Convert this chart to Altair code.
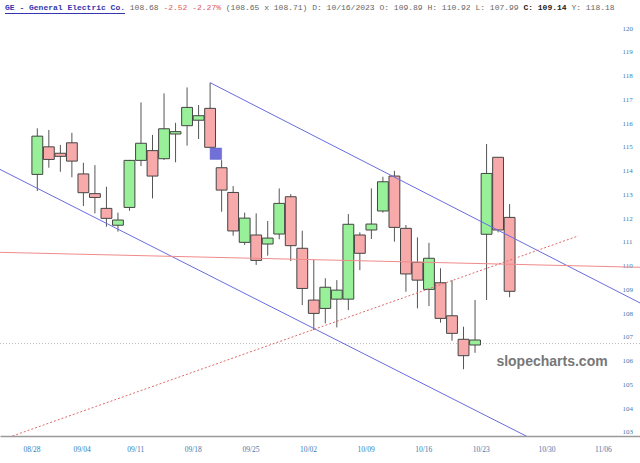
import json
import altair as alt
import pandas as pd

# ---- candle data (trading-day index 0 = 08/28) ----
idx = list(range(42))
opens = [113.84, 115.00, 114.73, 115.17, 113.86, 113.03, 112.41, 111.70, 112.45, 114.43,
         114.84, 114.50, 115.54, 115.89, 116.12, 116.62, 114.12, 113.08, 110.98, 111.29,
         110.91, 111.33, 112.90, 110.73, 108.55, 108.20, 108.59, 108.59, 111.29, 111.50,
         112.30, 113.77, 111.57, 110.14, 109.00, 109.28, 107.89, 106.90, 106.66, 111.32,
         114.56, 112.03]
highs = [115.78, 115.71, 115.08, 115.59, 114.33, 114.23, 113.32, 112.23, 114.45, 116.87,
         115.50, 117.25, 116.01, 117.50, 116.76, 117.70, 114.44, 113.35, 112.23, 112.20,
         111.88, 113.25, 113.01, 111.47, 110.24, 109.47, 109.39, 112.17, 111.40, 113.25,
         113.74, 113.99, 111.71, 111.19, 110.96, 109.89, 109.39, 107.43, 108.55, 115.12,
         114.56, 112.59]
lows = [113.14, 114.12, 113.95, 113.72, 112.51, 112.20, 111.64, 111.43, 112.31, 114.19,
        112.83, 114.45, 114.35, 115.05, 115.33, 114.98, 112.27, 111.26, 110.87, 110.03,
        110.42, 111.11, 110.19, 108.34, 107.29, 107.57, 107.40, 108.13, 109.81, 111.12,
        112.23, 111.01, 108.90, 108.20, 108.30, 107.60, 106.84, 105.64, 106.33, 108.55,
        111.40, 108.67]
closes = [115.45, 114.47, 114.60, 114.40, 113.07, 112.87, 111.99, 111.92, 114.43, 115.15,
          113.77, 115.76, 115.64, 116.66, 116.31, 114.98, 113.18, 111.46, 112.00, 110.22,
          111.16, 112.62, 110.84, 109.04, 107.99, 109.09, 108.97, 111.74, 110.52, 111.75,
          113.53, 111.61, 109.65, 109.39, 110.31, 107.78, 107.15, 106.21, 106.87, 113.88,
          111.50, 108.92]

# blue marker box
marker_i = [15.5]
marker_lo = [114.47]
marker_hi = [114.95]

# trend lines (index, price)
upper_i = [15, 52.32]
upper_p = [117.70, 108.43]
lower_i = [-3.24, 52.32]
lower_p = [114.05, 100.40]
res_i = [-3.24, 52.32]
res_p = [110.56, 109.93]
trend_i = [-2.16, 46.96]
trend_p = [102.83, 111.25]
hline_p = [106.72]

# axis ticks
tick_pos = [-0.5, 3.85, 8.5, 13.5, 18.5, 23.5, 28.5, 33.5, 38.5, 44.2, 49.1]
tick_lab = ["08/28", "09/04", "09/11", "09/18", "09/25", "10/02", "10/09",
            "10/16", "10/23", "10/30", "11/06"]
y_ticks = list(range(103, 121))

X_DOMAIN = [-3.24, 52.32]
Y_DOMAIN = [102.83, 121.18]

df = pd.DataFrame({"i": idx, "o": opens, "h": highs, "l": lows, "c": closes})

xs = alt.Scale(domain=X_DOMAIN, nice=False, zero=False)
ys = alt.Scale(domain=Y_DOMAIN, nice=False, zero=False)

label_expr = f"{json.dumps(tick_lab)}[indexof({json.dumps(tick_pos)}, datum.value)]"
AX_COL = "#3d7ab0"
xaxis = alt.Axis(values=tick_pos, labelExpr=label_expr, grid=False, ticks=False,
                 domainColor="#9a9a9a", domainWidth=1.5, labelColor=AX_COL,
                 labelFont="Liberation Serif", labelFontSize=7.5, labelPadding=9,
                 labelFlush=False, labelOverlap=False, labelBound=False, title=None,
                 labelAngle=0)
yaxis = alt.Axis(orient="right", values=y_ticks, offset=-18, ticks=False, tickSize=0,
                 domain=False, grid=False, labelColor=AX_COL, labelFont="Liberation Serif",
                 labelFontSize=7, labelPadding=0, title=None, labelAlign="left",
                 labelBaseline="middle", labelOverlap=False, labelFlush=False)

hline = alt.Chart(pd.DataFrame({"p": hline_p})).mark_rule(
    color="#bbbbbb", strokeDash=[1, 2], strokeWidth=1
).encode(y=alt.Y("p:Q", scale=ys, axis=yaxis))

wicks = alt.Chart(df).mark_rule(color="#555555", strokeWidth=1).encode(
    x=alt.X("i:Q", scale=xs, axis=xaxis),
    y=alt.Y("l:Q", scale=ys, axis=yaxis),
    y2="h:Q",
)

bodies = alt.Chart(df).transform_calculate(
    x1="datum.i - 0.47",
    x2="datum.i + 0.47",
    top="max(datum.o, datum.c)",
    bot="min(datum.o, datum.c)",
    dir="datum.c >= datum.o ? 'up' : 'down'",
).mark_bar(stroke="#444444", strokeWidth=1).encode(
    x=alt.X("x1:Q", scale=xs, axis=xaxis),
    x2="x2:Q",
    y=alt.Y("bot:Q", scale=ys, axis=yaxis),
    y2="top:Q",
    color=alt.Color("dir:N", scale=alt.Scale(domain=["up", "down"],
                                            range=["#98F098", "#F8AAAA"]), legend=None),
)

mdf = pd.DataFrame({"i": marker_i, "lo": marker_lo, "hi": marker_hi})
marker = alt.Chart(mdf).transform_calculate(
    x1="datum.i - 0.5", x2="datum.i + 0.5"
).mark_bar(color="#7070D8", stroke="#6060c8", strokeWidth=0.5).encode(
    x=alt.X("x1:Q", scale=xs, axis=xaxis), x2="x2:Q",
    y=alt.Y("lo:Q", scale=ys, axis=yaxis), y2="hi:Q",
)


def line_layer(ii, pp, color, dash=None, width=1.0):
    kw = dict(color=color, strokeWidth=width, clip=True)
    if dash:
        kw["strokeDash"] = dash
    return alt.Chart(pd.DataFrame({"i": ii, "p": pp})).mark_line(**kw).encode(
        x=alt.X("i:Q", scale=xs, axis=xaxis),
        y=alt.Y("p:Q", scale=ys, axis=yaxis),
    )


upper = line_layer(upper_i, upper_p, "#6b6be0")
lower = line_layer(lower_i, lower_p, "#6b6be0")
res = line_layer(res_i, res_p, "#f08a8a")
trend = line_layer(trend_i, trend_p, "#e06a6a", dash=[2, 2])

CW = 4.8
X0 = 5


def txt(s, off, color, weight="normal", font="Liberation Mono", size=8, y=8, align="left", x=None):
    return alt.Chart(pd.DataFrame({"t": [s]})).mark_text(
        align=align, baseline="middle", font=font, fontSize=size, color=color,
        fontWeight=weight
    ).encode(x=alt.value(x if x is not None else X0 + off * CW), y=alt.value(y), text="t:N")


header = [
    txt("GE - General Electric Co.", 0, "#3535b0", "bold"),
    txt("108.68", 26, "#666666"),
    txt("-2.52 -2.27%", 33, "#e05a5a"),
    txt("(108.65 x 108.71) D: 10/16/2023 O: 109.89 H: 110.92 L: 107.99", 46, "#666666"),
    txt("C: 109.14", 108, "#222222", "bold"),
    txt("Y: 118.18", 118, "#666666"),
]
underline = alt.Chart(pd.DataFrame({"a": [0]})).mark_rule(color="#3535b0", strokeWidth=1).encode(
    x=alt.value(X0), x2=alt.value(X0 + 25 * CW), y=alt.value(13.5)
)
watermark = txt("slopecharts.com", 0, "#777777", "bold", font="Liberation Sans",
                size=14, y=362, align="center", x=552)

chart = alt.layer(
    hline, wicks, bodies, marker, upper, lower, res, trend, watermark, underline, *header
).properties(
    width=640, height=436,
    autosize=alt.AutoSizeParams(type="none"),
    padding={"left": 0, "top": 0, "right": 0, "bottom": 27},
    background="white",
).configure_view(stroke=None)

chart.save("out.html", embed_options={"renderer": "svg", "actions": False})
